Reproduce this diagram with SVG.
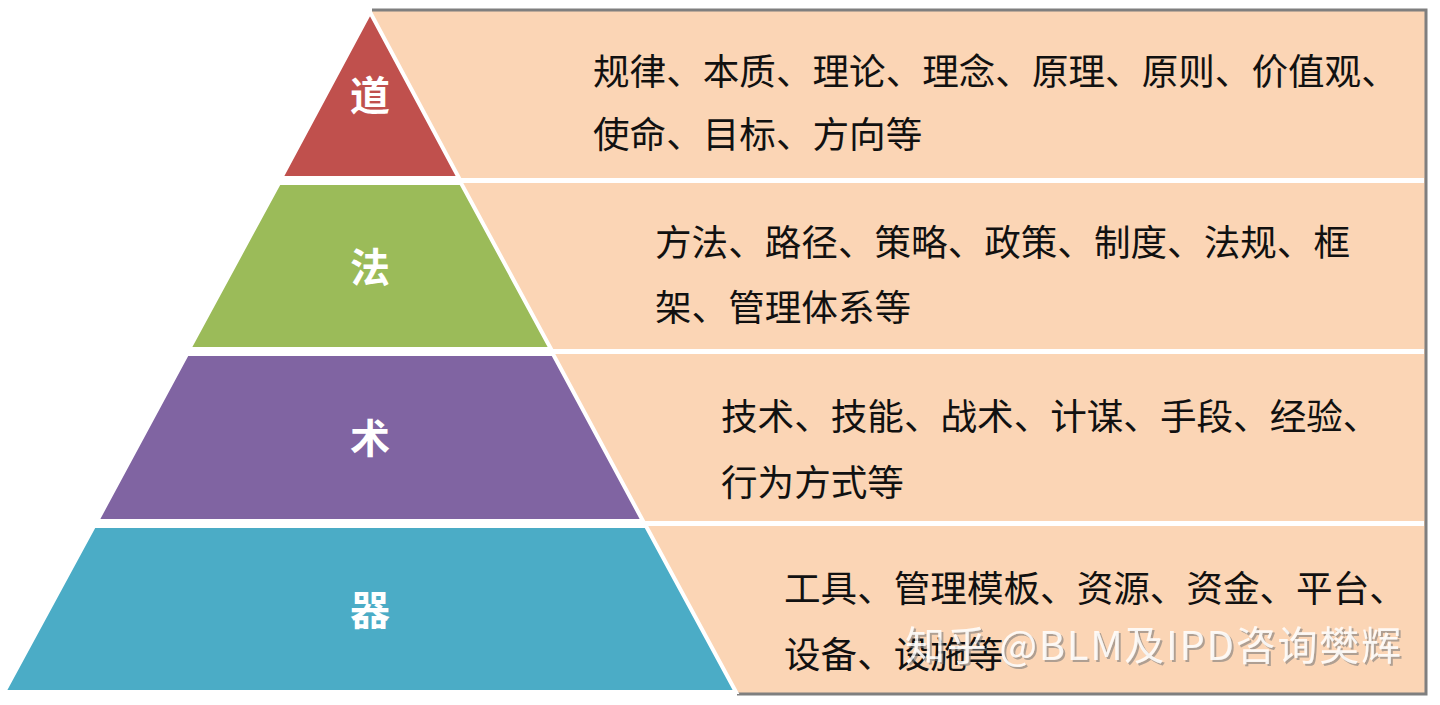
<svg xmlns="http://www.w3.org/2000/svg" width="1440" height="705" viewBox="0 0 1440 705">
<defs>
<style>
.lvl{font-family:"Noto Sans CJK SC","Noto Sans",sans-serif;font-size:40px;font-weight:bold;fill:#ffffff;text-anchor:middle}
.desc{font-family:"Noto Sans CJK SC","Noto Sans",sans-serif;font-size:36.6px;fill:#111111}
.band{stroke:#ffffff;stroke-width:4;stroke-linejoin:miter}
.sep{stroke:#ffffff;stroke-width:5}
.wm{font-family:"Noto Sans CJK SC","Noto Sans",sans-serif;font-size:40px;fill:#ffffff;fill-opacity:0.85}
</style>
<filter id="wmShadow" x="-5%" y="-30%" width="110%" height="160%">
<feDropShadow dx="2" dy="2" stdDeviation="0.6" flood-color="#7a7a7a" flood-opacity="0.7"/>
</filter>
</defs>
<rect width="1440" height="705" fill="#ffffff"/>
<g id="panel">
<rect x="372" y="10" width="1054" height="684" fill="#FBD5B5"/>
<path d="M372,10 H1426 V694 H737" fill="none" stroke="#7f7f7f" stroke-width="3"/>
</g>
<g id="separators">
<line class="sep" x1="372" y1="180.5" x2="1424" y2="180.5"/>
<line class="sep" x1="372" y1="351.5" x2="1424" y2="351.5"/>
<line class="sep" x1="372" y1="523.5" x2="1424" y2="523.5"/>
</g>
<g id="dao">
<polygon class="band" points="370,12 459,178 281,178" fill="#C0504D"/>
<text class="lvl" x="370" y="110">道</text>
<text class="desc" x="593" y="85">规律、本质、理论、理念、原理、原则、价值观、</text>
<text class="desc" x="593" y="148">使命、目标、方向等</text>
</g>
<g id="fa">
<polygon class="band" points="279,183 461,183 551,349 189,349" fill="#9BBB59"/>
<text class="lvl" x="370" y="282">法</text>
<text class="desc" x="655" y="256">方法、路径、策略、政策、制度、法规、框</text>
<text class="desc" x="655" y="321">架、管理体系等</text>
</g>
<g id="shu">
<polygon class="band" points="187,354 553,354 643,521 97,521" fill="#8064A2"/>
<text class="lvl" x="370" y="453">术</text>
<text class="desc" x="721" y="430">技术、技能、战术、计谋、手段、经验、</text>
<text class="desc" x="721" y="496">行为方式等</text>
</g>
<g id="qi">
<polygon class="band" points="94,526 646,526 736,692 4,692" fill="#4BACC6"/>
<text class="lvl" x="370" y="625">器</text>
<text class="desc" x="784" y="602">工具、管理模板、资源、资金、平台、</text>
<text class="desc" x="784" y="668">设备、设施等</text>
</g>
<g id="watermark">
<text class="wm" x="905" y="660" textLength="496" filter="url(#wmShadow)">知乎 @BLM及IPD咨询樊辉</text>
</g>
</svg>
